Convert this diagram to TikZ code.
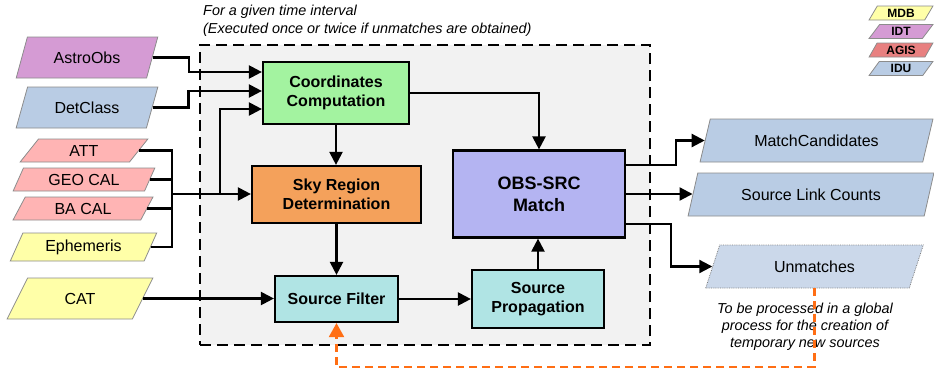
\documentclass[tikz,border=0pt]{standalone}
\usepackage{fontspec}
\setmainfont{Liberation Sans}
\usetikzlibrary{shapes.geometric,arrows.meta,calc}
\definecolor{cAstro}{RGB}{213,155,212}
\definecolor{cIDU}{RGB}{185,204,228}
\definecolor{cUnm}{RGB}{203,216,234}
\definecolor{cPink}{RGB}{255,180,180}
\definecolor{cAGIS}{RGB}{232,128,128}
\definecolor{cYel}{RGB}{255,255,168}
\definecolor{cCC}{RGB}{163,243,160}
\definecolor{cSky}{RGB}{244,161,91}
\definecolor{cCyan}{RGB}{176,228,228}
\definecolor{cObs}{RGB}{180,180,242}
\definecolor{cFrame}{RGB}{242,242,242}
\definecolor{cOrange}{RGB}{255,110,20}
\begin{document}
\begin{tikzpicture}[x=1pt,y=-1pt,
  box/.style={draw, line width=2.2pt, font=\fontsize{16}{19}\selectfont\bfseries, align=center, inner sep=0pt},
  para/.style={trapezium, trapezium left angle=62, trapezium right angle=118, trapezium stretches=true,
    draw=black!45, line width=0.8pt, font=\fontsize{16}{18}\selectfont, inner sep=0pt},
  legend/.style={para, trapezium left angle=60, trapezium right angle=120, font=\fontsize{12}{12}\selectfont\bfseries,
    minimum width=64pt, minimum height=14pt},
  arr/.style={line width=2.2pt, -{Triangle[length=13pt,width=13pt]}},
  ln/.style={line width=2.2pt},
  odash/.style={draw=cOrange, line width=2.2pt, dash pattern=on 8pt off 5pt, -{Triangle[length=14pt,width=15pt]}},
  note/.style={font=\fontsize{14.4}{17}\selectfont\itshape, align=center, inner sep=0pt}]
\useasboundingbox (0,0) rectangle (934,372);
% frame
\node[draw, fill=cFrame, line width=2.6pt, dash pattern=on 11pt off 6pt, minimum width=450pt, minimum height=300pt, inner sep=0pt] (frame) at (425,195) {};
\node[note, align=left, anchor=north west, font=\fontsize{14.4}{18}\selectfont\itshape] (title) at (203,5) {For a given time interval\\(Executed once or twice if unmatches are obtained)};
% legend
\node[legend, fill=cYel] (lmdb) at (901,13) {MDB};
\node[legend, fill=cAstro] (lidt) at (901,31.5) {IDT};
\node[legend, fill=cAGIS] (lagis) at (901,50) {AGIS};
\node[legend, fill=cIDU] (lidu) at (901,68.5) {IDU};
% inputs
\node[para, fill=cAstro, minimum width=142pt, minimum height=41pt] (astro) at (87,57.5) {AstroObs};
\node[para, fill=cIDU, minimum width=142pt, minimum height=41pt] (det) at (87,107.5) {DetClass};
\node[para, fill=cPink, minimum width=128pt, minimum height=23pt] (att) at (84,150.5) {ATT};
\node[para, fill=cPink, minimum width=142pt, minimum height=23pt] (geo) at (84,179.5) {GEO CAL};
\node[para, fill=cPink, minimum width=140pt, minimum height=23pt] (ba) at (83,208.5) {BA CAL};
\node[para, fill=cYel, minimum width=147pt, minimum height=28pt] (eph) at (83.5,247) {Ephemeris};
\node[para, fill=cYel, minimum width=146pt, minimum height=41pt] (cat) at (80,298.5) {CAT};
% process boxes
\node[box, fill=cCC, minimum width=146pt, minimum height=62pt] (cc) at (336,93) {Coordinates\\Computation};
\node[box, fill=cSky, minimum width=169pt, minimum height=57pt] (sky) at (336.5,194.5) {Sky Region\\Determination};
\node[box, fill=cCyan, minimum width=123pt, minimum height=46pt] (sf) at (336.5,299) {Source Filter};
\node[box, fill=cCyan, minimum width=132pt, minimum height=58pt] (sp) at (538,299) {Source\\Propagation};
\node[box, fill=cObs, minimum width=172pt, minimum height=87pt, font=\fontsize{18}{22}\selectfont\bfseries] (obs) at (539,194) {OBS-SRC\\Match};
% outputs
\node[para, trapezium left angle=63, trapezium right angle=117, fill=cIDU, minimum width=233pt, minimum height=43pt] (mc) at (816.5,140.5) {MatchCandidates};
\node[para, trapezium left angle=63, trapezium right angle=117, fill=cIDU, minimum width=246pt, minimum height=43pt] (slc) at (811,194.5) {Source Link Counts};
\node[para, trapezium left angle=63, trapezium right angle=117, fill=cUnm, draw=black!50, densely dotted, minimum width=219pt, minimum height=43pt] (unm) at (814.5,266.5) {Unmatches};
\node[note] (notetxt) at (805,327) {To be processed in a global\\process for the creation of\\temporary new sources};
% connectors
\coordinate (bus) at (172,194);
\coordinate (br) at (220,194);
\draw[arr] (astro.east) -- ++(36,0) |- ([yshift=21pt]cc.west);
\draw[arr] (det.east) -- ++(36,0) |- ([yshift=2pt]cc.west);
\draw[ln] (att.east) -| (bus);
\draw[ln] (geo.east) -| (bus);
\draw[ln] (ba.east) -| (bus);
\draw[ln] (eph.east) -| (bus);
\draw[arr] (bus) -- (bus -| sky.west);
\draw[arr] (br) |- ([yshift=-16pt]cc.west);
\draw[arr] (cat.east) -- (cat.east -| sf.west);
\draw[arr] (cc.south) -- (cc.south |- sky.north);
\draw[arr] (cc.east) -| (obs.north);
\draw[arr] (sky.south) -- (sky.south |- sf.north);
\draw[arr] (sf.east) -- (sf.east -| sp.west);
\draw[arr] (sp.north) -- (sp.north |- obs.south);
\draw[arr] ([yshift=29pt]obs.east) -- ++(50,0) |- (mc.west);
\draw[arr] (obs.east) -- (obs.east -| slc.west);
\draw[arr] ([yshift=-30pt]obs.east) -- ++(45,0) |- (unm.west);
\draw[odash] (unm.south) -- (unm.south |- 0,367) -| (sf.south);
\end{tikzpicture}
\end{document}
